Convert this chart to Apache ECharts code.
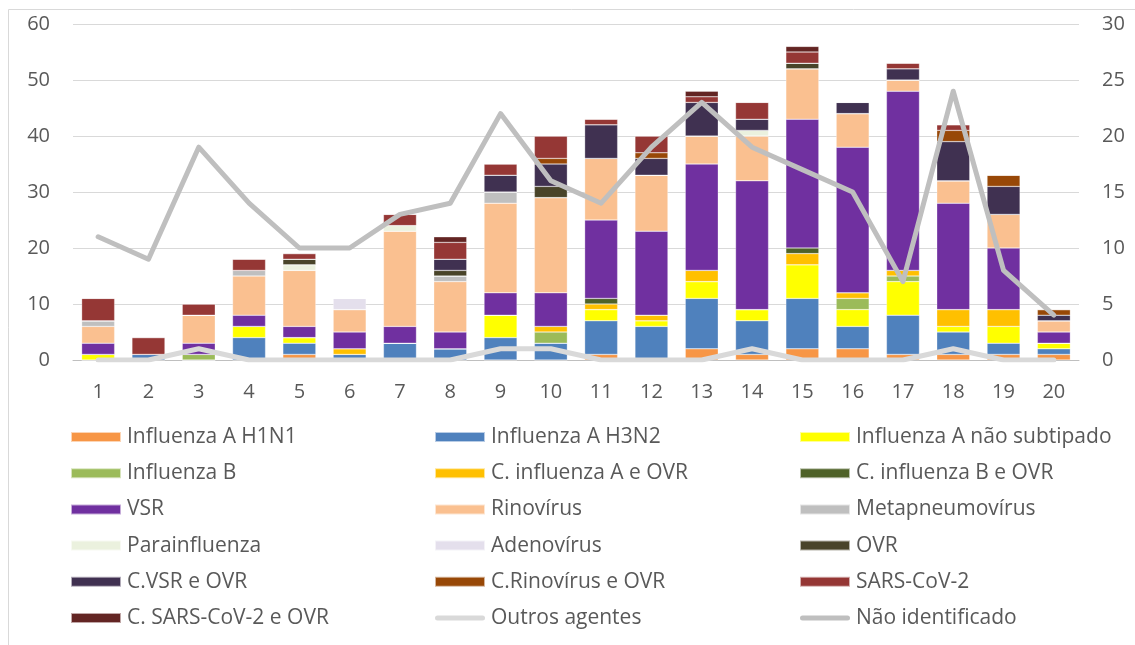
<!DOCTYPE html>
<html>
<head>
<meta charset="utf-8">
<script src="https://cdn.jsdelivr.net/npm/echarts@6/dist/echarts.min.js"></script>
<style>
  html, body { margin: 0; padding: 0; background: #fff; }
  #chart { width: 1135px; height: 645px; }
</style>
</head>
<body>
<div id="chart"></div>
<script>
// weeks on the x axis
var categories = ['1','2','3','4','5','6','7','8','9','10','11','12','13','14','15','16','17','18','19','20'];

// stacked bars, bottom to top
var h1n1       = [0,0,0,0,1,0,0,0,0,0,1,0,2,1,2,2,1,1,1,1];
var h3n2       = [0,1,0,4,2,1,3,2,4,3,6,6,9,6,9,4,7,4,2,1];
var naoSubtip  = [1,0,0,2,1,0,0,0,4,0,2,1,3,2,6,3,6,1,3,1];
var influB     = [0,0,1,0,0,0,0,0,0,2,0,0,0,0,0,2,1,0,0,0];
var cInfluA    = [0,0,0,0,0,1,0,0,0,1,1,1,2,0,2,1,1,3,3,0];
var cInfluB    = [0,0,0,0,0,0,0,0,0,0,1,0,0,0,1,0,0,0,0,0];
var vsr        = [2,0,2,2,2,3,3,3,4,6,14,15,19,23,23,26,32,19,11,2];
var rino       = [3,0,5,7,10,4,17,9,16,17,11,10,5,8,9,6,2,4,6,2];
var metap      = [1,0,0,1,0,0,0,1,2,0,0,0,0,0,0,0,0,0,0,0];
var parainf    = [0,0,0,0,1,0,1,0,0,0,0,0,0,1,0,0,0,0,0,0];
var adeno      = [0,0,0,0,0,2,0,0,0,0,0,0,0,0,0,0,0,0,0,0];
var ovr        = [0,0,0,0,1,0,0,1,0,2,0,0,0,0,1,0,0,0,0,0];
var cVsr       = [0,0,0,0,0,0,0,2,3,4,6,3,6,2,0,2,2,7,5,1];
var cRino      = [0,0,0,0,0,0,0,0,0,1,0,1,0,0,0,0,0,2,2,1];
var sars       = [4,3,2,2,1,0,2,3,2,4,1,3,1,3,2,0,1,1,0,0];
var cSars      = [0,0,0,0,0,0,0,1,0,0,0,0,1,0,1,0,0,0,0,0];

// lines on the right axis
var outrosAgentes   = [0,0,1,0,0,0,0,0,1,1,0,0,0,1,0,0,0,1,0,0];
var naoIdentificado = [11,9,19,14,10,10,13,14,22,16,14,19,23,19,17,15,7,24,8,4];

var bars = [
    ['Influenza A H1N1', h1n1, '#F79646'],
    ['Influenza A H3N2', h3n2, '#4F81BD'],
    ['Influenza A não subtipado', naoSubtip, '#FFFF00'],
    ['Influenza B', influB, '#9BBB59'],
    ['C. influenza A e OVR', cInfluA, '#FFC000'],
    ['C. influenza B e OVR', cInfluB, '#4F6228'],
    ['VSR', vsr, '#7030A0'],
    ['Rinovírus', rino, '#FAC090'],
    ['Metapneumovírus', metap, '#BFBFBF'],
    ['Parainfluenza', parainf, '#EBF1DE'],
    ['Adenovírus', adeno, '#E4DFEC'],
    ['OVR', ovr, '#494429'],
    ['C.VSR e OVR', cVsr, '#403151'],
    ['C.Rinovírus e OVR', cRino, '#984807'],
    ['SARS-CoV-2', sars, '#953735'],
    ['C. SARS-CoV-2 e OVR', cSars, '#632523']
];
var lines = [
    ['Outros agentes', outrosAgentes, '#D9D9D9'],
    ['Não identificado', naoIdentificado, '#BFBFBF']
];

var font = 'Open Sans';
var txt = '#595959';
// thick rounded stroke used as legend icon for the two lines
var lineIcon = 'path://M2.5,0 L47.5,0 A2.5,2.5 0 0 1 47.5,5 L2.5,5 A2.5,2.5 0 0 1 2.5,0 Z';

// legend is laid out in 3 columns, row by row
var allItems = bars.map(b => ({ name: b[0], icon: 'rect' }))
    .concat(lines.map(l => ({ name: l[0], icon: lineIcon, itemStyle: { borderWidth: 0 } })));
var colX = [70, 434, 799];
var legends = colX.map((x, c) => ({
    orient: 'vertical',
    left: x,
    top: 426.5,
    padding: 0,
    itemWidth: 50,
    itemHeight: 10,
    itemGap: 15.2,
    selectedMode: false,
    textStyle: { color: txt, fontFamily: font, fontSize: 21, lineHeight: 21, padding: [0, 0, 0, 1] },
    data: allItems.filter((n, i) => i % 3 === c)
}));

var myChart = echarts.init(document.getElementById('chart'));
myChart.setOption({
    animation: false,
    legend: legends,
    grid: { left: 73, right: 56, top: 24, bottom: 285, containLabel: false },
    xAxis: {
        type: 'category',
        data: categories,
        axisTick: { show: false },
        axisLine: { lineStyle: { color: '#BFBFBF', width: 1 } },
        axisLabel: { color: txt, fontFamily: font, fontSize: 20, margin: 22 }
    },
    yAxis: [
        {
            type: 'value', min: 0, max: 60, interval: 10,
            axisLabel: { color: txt, fontFamily: font, fontSize: 20, margin: 23 },
            splitLine: { lineStyle: { color: '#D9D9D9', width: 1 } }
        },
        {
            type: 'value', min: 0, max: 30, interval: 5,
            axisLabel: { color: txt, fontFamily: font, fontSize: 20, margin: 23 },
            splitLine: { show: false }
        }
    ],
    series: bars.map(b => ({
        name: b[0],
        type: 'bar',
        stack: 'total',
        barWidth: 33,
        itemStyle: { color: b[2], borderColor: 'rgba(255,255,255,0.6)', borderWidth: 0.5 },
        data: b[1]
    })).concat(lines.map(l => ({
        name: l[0],
        type: 'line',
        yAxisIndex: 1,
        symbol: 'none',
        z: 5,
        lineStyle: { color: l[2], width: 5, cap: 'round', join: 'round' },
        itemStyle: { color: l[2] },
        data: l[1]
    }))),
    graphic: [
        { type: 'line', shape: { x1: 8.5, y1: 9.5, x2: 1135, y2: 9.5 }, style: { stroke: '#D9D9D9', lineWidth: 1 } },
        { type: 'line', shape: { x1: 8.5, y1: 9.5, x2: 8.5, y2: 645 }, style: { stroke: '#D9D9D9', lineWidth: 1 } }
    ]
});
</script>
</body>
</html>
